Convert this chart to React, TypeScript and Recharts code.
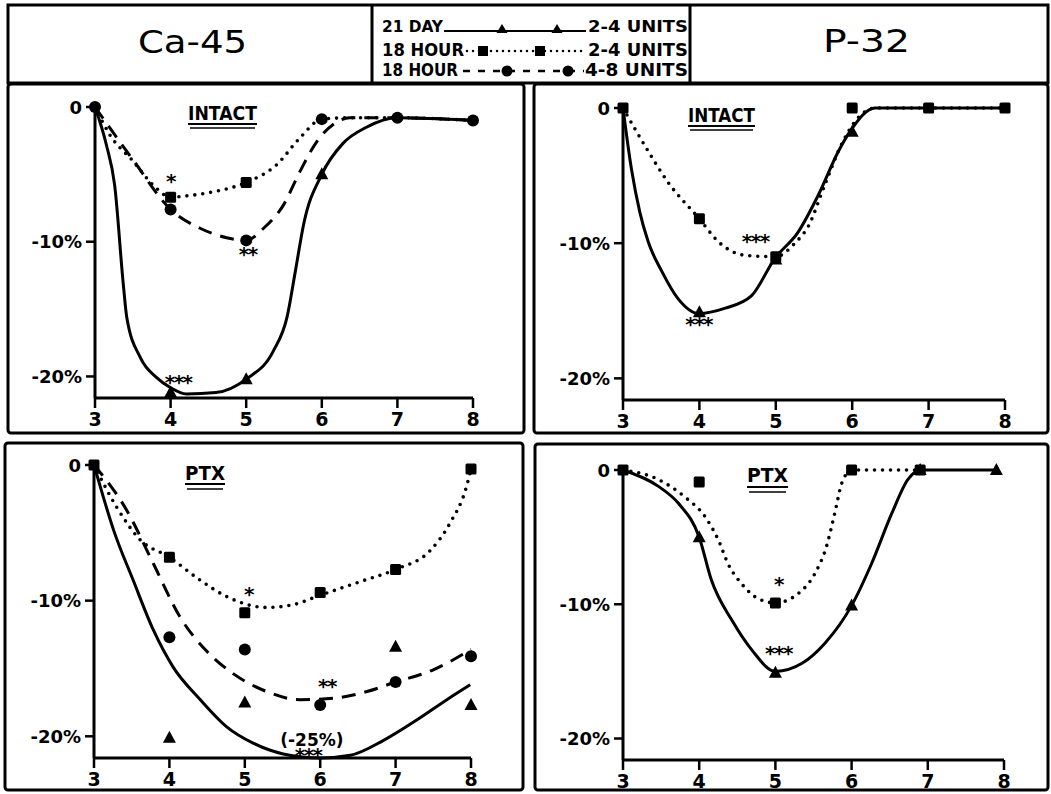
import React from 'react';
import { ComposedChart, Line, Scatter, XAxis, YAxis } from 'recharts';

type P = { x: number; y: number };
type Note = { x: number; y: number; text: string; size?: number };

// ---------- axes ----------
const xTicks = [3, 4, 5, 6, 7, 8];
const yTicks = [-20, -10, 0];
const yTickLabels: Record<string, string> = { '0': '0', '-10': '-10%', '-20': '-20%' };
const yMin = -21.6;

// ---------- header / legend text ----------
const leftTitle = 'Ca-45';
const rightTitle = 'P-32';
const legendLeft = ['21 DAY', '18 HOUR', '18 HOUR'];
const legendRight = ['2-4 UNITS', '2-4 UNITS', '4-8 UNITS'];
const panelLabels = ['INTACT', 'INTACT', 'PTX', 'PTX'];

// ---------- Ca-45 INTACT ----------
const caIntactDay21Pts: P[] = [{ x: 4, y: -21.2 }, { x: 5, y: -20.2 }, { x: 6, y: -5.0 }];
const caIntactH18LowPts: P[] = [{ x: 4, y: -6.7 }, { x: 5, y: -5.6 }];
const caIntactH18HighPts: P[] = [
  { x: 3, y: 0 }, { x: 4, y: -7.6 }, { x: 5, y: -9.9 }, { x: 6, y: -0.9 }, { x: 7, y: -0.8 }, { x: 8, y: -1.0 },
];
const caIntactDay21Curve: P[] = [
  { x: 3, y: 0 }, { x: 3.15, y: -2.8 }, { x: 3.26, y: -5.8 }, { x: 3.375, y: -13.2 }, { x: 3.42, y: -15.6 },
  { x: 3.6, y: -18.6 }, { x: 3.82, y: -20.1 }, { x: 3.99, y: -20.8 }, { x: 4.21, y: -21.3 }, { x: 4.6, y: -21.2 },
  { x: 5, y: -20.2 }, { x: 5.36, y: -18.1 }, { x: 5.54, y: -15.6 }, { x: 5.65, y: -12.2 }, { x: 5.76, y: -8.7 },
  { x: 6, y: -5.0 }, { x: 6.28, y: -2.7 }, { x: 6.59, y: -1.5 }, { x: 7, y: -0.8 }, { x: 8, y: -1.0 },
];
const caIntactH18LowCurve: P[] = [
  { x: 3, y: 0 }, { x: 3.2, y: -2.1 }, { x: 3.5, y: -4.0 }, { x: 3.77, y: -5.8 }, { x: 4, y: -6.7 },
  { x: 4.21, y: -6.6 }, { x: 4.56, y: -6.3 }, { x: 5, y: -5.6 }, { x: 5.4, y: -4.3 }, { x: 5.71, y: -2.3 },
  { x: 6, y: -0.9 }, { x: 6.37, y: -0.8 }, { x: 7, y: -0.8 }, { x: 8, y: -1.0 },
];
const caIntactH18HighCurve: P[] = [
  { x: 3, y: 0 }, { x: 3.5, y: -3.9 }, { x: 4, y: -7.6 }, { x: 4.39, y: -9.0 }, { x: 4.74, y: -9.7 },
  { x: 5, y: -9.9 }, { x: 5.23, y: -9.0 }, { x: 5.49, y: -7.3 }, { x: 5.71, y: -4.8 }, { x: 5.93, y: -2.6 },
  { x: 6.15, y: -1.3 }, { x: 6.37, y: -0.8 }, { x: 7, y: -0.8 }, { x: 8, y: -1.0 },
];
const caIntactNotes: Note[] = [
  { x: 4.0, y: -5.4, text: '*' }, { x: 5.02, y: -10.8, text: '**' }, { x: 4.1, y: -20.3, text: '***' },
];

// ---------- P-32 INTACT ----------
const pIntactDay21Pts: P[] = [{ x: 4, y: -15.1 }, { x: 5, y: -11.2 }, { x: 6, y: -1.75 }];
const pIntactH18LowPts: P[] = [
  { x: 3, y: 0 }, { x: 4, y: -8.2 }, { x: 5, y: -11.0 }, { x: 6, y: 0 }, { x: 7, y: 0 }, { x: 8, y: 0 },
];
const pIntactDay21Curve: P[] = [
  { x: 3, y: 0 }, { x: 3.11, y: -4.5 }, { x: 3.22, y: -7.7 }, { x: 3.33, y: -9.9 }, { x: 3.51, y: -12.1 },
  { x: 3.72, y: -14.1 }, { x: 3.99, y: -15.2 }, { x: 4.34, y: -14.8 }, { x: 4.68, y: -13.9 }, { x: 4.99, y: -11.1 },
  { x: 5.29, y: -9.2 }, { x: 5.56, y: -6.4 }, { x: 5.82, y: -3.2 }, { x: 5.97, y: -1.75 }, { x: 6.3, y: 0 },
  { x: 7, y: 0 }, { x: 8, y: 0 },
];
const pIntactH18LowCurve: P[] = [
  { x: 3, y: 0 }, { x: 3.33, y: -3.2 }, { x: 3.59, y: -5.5 }, { x: 4, y: -8.2 }, { x: 4.25, y: -9.9 },
  { x: 4.6, y: -10.9 }, { x: 5, y: -11.0 }, { x: 5.25, y: -10.0 }, { x: 5.43, y: -8.7 }, { x: 5.64, y: -5.7 },
  { x: 5.86, y: -2.7 }, { x: 6.05, y: -0.9 }, { x: 6.3, y: 0 }, { x: 7, y: 0 }, { x: 8, y: 0 },
];
const pIntactNotes: Note[] = [
  { x: 4.73, y: -9.7, text: '***' }, { x: 3.99, y: -15.9, text: '***' },
];

// ---------- Ca-45 PTX ----------
const caPtxDay21Pts: P[] = [{ x: 4, y: -20.1 }, { x: 5, y: -17.5 }, { x: 7, y: -13.4 }, { x: 8, y: -17.7 }];
const caPtxH18LowPts: P[] = [
  { x: 3, y: 0 }, { x: 4, y: -6.8 }, { x: 5, y: -10.9 }, { x: 6, y: -9.4 }, { x: 7, y: -7.7 }, { x: 8, y: -0.3 },
];
const caPtxH18HighPts: P[] = [
  { x: 4, y: -12.7 }, { x: 5, y: -13.6 }, { x: 6, y: -17.7 }, { x: 7, y: -16.0 }, { x: 8, y: -14.1 },
];
const caPtxDay21Curve: P[] = [
  { x: 3, y: 0 }, { x: 3.12, y: -2.3 }, { x: 3.26, y: -4.8 }, { x: 3.52, y: -8.5 }, { x: 3.79, y: -12.2 },
  { x: 4.05, y: -14.9 }, { x: 4.41, y: -17.3 }, { x: 4.76, y: -19.3 }, { x: 5.11, y: -20.5 }, { x: 5.51, y: -21.3 },
  { x: 6, y: -21.6 }, { x: 6.4, y: -21.4 }, { x: 6.84, y: -20.3 }, { x: 7.28, y: -18.8 }, { x: 7.68, y: -17.3 },
  { x: 7.99, y: -16.2 },
];
const caPtxH18LowCurve: P[] = [
  { x: 3, y: 0 }, { x: 3.3, y: -3.1 }, { x: 3.61, y: -5.5 }, { x: 4, y: -6.8 }, { x: 4.41, y: -8.5 },
  { x: 4.76, y: -9.7 }, { x: 5.29, y: -10.5 }, { x: 5.64, y: -10.3 }, { x: 6, y: -9.6 }, { x: 6.53, y: -8.6 },
  { x: 7, y: -7.7 }, { x: 7.46, y: -6.3 }, { x: 7.72, y: -4.3 }, { x: 7.94, y: -1.6 }, { x: 8, y: -0.3 },
];
const caPtxH18HighCurve: P[] = [
  { x: 3, y: 0 }, { x: 3.43, y: -3.3 }, { x: 3.79, y: -7.3 }, { x: 4.14, y: -11.2 }, { x: 4.49, y: -13.7 },
  { x: 4.85, y: -15.4 }, { x: 5.29, y: -16.7 }, { x: 5.73, y: -17.3 }, { x: 6.17, y: -17.2 }, { x: 6.62, y: -16.7 },
  { x: 7, y: -16.0 }, { x: 7.5, y: -15.1 }, { x: 8, y: -13.6 },
];
const caPtxNotes: Note[] = [
  { x: 5.05, y: -9.4, text: '*' }, { x: 6.09, y: -16.2, text: '**' },
  { x: 5.89, y: -20.3, text: '(-25%)', size: 17 }, { x: 5.84, y: -21.3, text: '***' },
];

// ---------- P-32 PTX ----------
const pPtxDay21Pts: P[] = [
  { x: 4, y: -5.0 }, { x: 5, y: -15.1 }, { x: 6, y: -10.1 }, { x: 6.9, y: 0 }, { x: 7.9, y: 0 },
];
const pPtxH18LowPts: P[] = [
  { x: 3, y: 0 }, { x: 4, y: -0.9 }, { x: 5, y: -9.9 }, { x: 6, y: 0 }, { x: 6.9, y: 0 },
];
const pPtxDay21Curve: P[] = [
  { x: 3, y: 0 }, { x: 3.46, y: -1.2 }, { x: 3.73, y: -2.5 }, { x: 4, y: -5.0 }, { x: 4.16, y: -8.2 },
  { x: 4.43, y: -11.2 }, { x: 4.69, y: -13.4 }, { x: 5, y: -15.0 }, { x: 5.35, y: -14.4 }, { x: 5.65, y: -12.9 },
  { x: 6, y: -10.1 }, { x: 6.26, y: -7.0 }, { x: 6.53, y: -3.2 }, { x: 6.74, y: -0.7 }, { x: 6.9, y: 0 },
  { x: 7.9, y: 0 },
];
const pPtxH18LowCurve: P[] = [
  { x: 3, y: 0 }, { x: 3.46, y: -0.7 }, { x: 3.81, y: -2.0 }, { x: 4.08, y: -3.5 }, { x: 4.25, y: -5.2 },
  { x: 4.38, y: -7.0 }, { x: 4.56, y: -8.5 }, { x: 4.78, y: -9.6 }, { x: 5, y: -9.9 }, { x: 5.3, y: -9.2 },
  { x: 5.52, y: -7.7 }, { x: 5.67, y: -5.7 }, { x: 5.78, y: -3.2 }, { x: 5.87, y: -1.0 }, { x: 6, y: 0 },
  { x: 6.9, y: 0 },
];
const pPtxNotes: Note[] = [
  { x: 5.04, y: -8.4, text: '*' }, { x: 5.04, y: -13.5, text: '***' },
];

// ---------- shapes ----------
const FONT = '"DejaVu Sans", "Liberation Sans", sans-serif';
const Tri = (p: any) => (
  <path d={`M${p.cx},${p.cy - 7} L${p.cx + 6.5},${p.cy + 5} L${p.cx - 6.5},${p.cy + 5} Z`} fill="#000" />
);
const Sq = (p: any) => <rect x={p.cx - 5.5} y={p.cy - 5.5} width={11} height={11} rx={1.5} fill="#000" />;
const Circ = (p: any) => <circle cx={p.cx} cy={p.cy} r={6} fill="#000" />;
const NoteShape = (p: any) => {
  const txt: string = p.payload ? p.payload.text : '';
  const star = txt.charAt(0) === '*';
  return (
    <text
      x={p.cx}
      y={p.cy}
      dy={star ? '0.42em' : '0.35em'}
      textAnchor="middle"
      fontFamily={FONT}
      fontWeight={700}
      fontSize={(p.payload && p.payload.size) || 20}
      letterSpacing={star ? -1.5 : 0}
      fill="#000"
    >
      {txt}
    </text>
  );
};

type Series = { curve?: P[]; pts?: P[]; kind: 'solid' | 'dotted' | 'dashed' };
type Box = { x: number; y: number; w: number; h: number };
type Plot = { x0: number; y0: number; x1: number; y1: number };

const strokeFor = (kind: string) =>
  kind === 'solid'
    ? { strokeWidth: 3 }
    : kind === 'dotted'
    ? { strokeWidth: 3.6, strokeDasharray: '0 8', strokeLinecap: 'round' as const }
    : { strokeWidth: 3, strokeDasharray: '14 9' };
const shapeFor = (kind: string) => (kind === 'solid' ? Tri : kind === 'dotted' ? Sq : Circ);

const YTick = (p: any) => (
  <text x={p.x} y={p.y} textAnchor="end" dominantBaseline="central" fontFamily={FONT} fontWeight={700} fontSize={18} fill="#000">
    {yTickLabels[String(p.payload.value)]}
  </text>
);
const XTick = (p: any) => (
  <text x={p.x} y={p.y + 16} textAnchor="middle" fontFamily={FONT} fontWeight={700} fontSize={19} fill="#000">
    {p.payload.value}
  </text>
);

function Panel({ box, plot, series, notes }: { box: Box; plot: Plot; series: Series[]; notes: Note[] }) {
  const YW = 60;
  const XH = 30;
  const margin = {
    left: plot.x0 - box.x - YW,
    top: plot.y0 - box.y,
    right: box.x + box.w - plot.x1,
    bottom: box.y + box.h - plot.y1 - XH,
  };
  return (
    <div style={{ position: 'absolute', left: box.x, top: box.y, width: box.w, height: box.h }}>
      <ComposedChart width={box.w} height={box.h} margin={margin}>
        <XAxis
          type="number"
          dataKey="x"
          domain={[3, 8]}
          ticks={xTicks}
          height={XH}
          axisLine={{ stroke: '#000', strokeWidth: 3 }}
          tickLine={{ stroke: '#000', strokeWidth: 2.5 }}
          tickSize={10}
          tick={<XTick />}
        />
        <YAxis
          type="number"
          dataKey="y"
          domain={[yMin, 0]}
          ticks={yTicks}
          width={YW}
          axisLine={{ stroke: '#000', strokeWidth: 3 }}
          tickLine={{ stroke: '#000', strokeWidth: 2.5 }}
          tickSize={9}
          tickMargin={4}
          tick={<YTick />}
        />
        {series.map((s, i) =>
          s.curve ? (
            <Line
              key={'c' + i}
              data={s.curve}
              dataKey="y"
              type="monotone"
              stroke="#000"
              {...strokeFor(s.kind)}
              dot={false}
              activeDot={false}
              isAnimationActive={false}
            />
          ) : null
        )}
        {series.map((s, i) =>
          s.pts ? (
            <Scatter key={'p' + i} data={s.pts} dataKey="y" shape={shapeFor(s.kind)} isAnimationActive={false} />
          ) : null
        )}
        <Scatter data={notes} dataKey="y" shape={NoteShape} isAnimationActive={false} />
      </ComposedChart>
    </div>
  );
}

const panels: { box: Box; plot: Plot; series: Series[]; notes: Note[] }[] = [
  {
    box: { x: 8, y: 84, w: 516, h: 349 },
    plot: { x0: 95, y0: 107, x1: 473, y1: 398 },
    series: [
      { kind: 'solid', curve: caIntactDay21Curve, pts: caIntactDay21Pts },
      { kind: 'dotted', curve: caIntactH18LowCurve, pts: caIntactH18LowPts },
      { kind: 'dashed', curve: caIntactH18HighCurve, pts: caIntactH18HighPts },
    ],
    notes: caIntactNotes,
  },
  {
    box: { x: 534, y: 84, w: 514, h: 349 },
    plot: { x0: 623, y0: 108, x1: 1005, y1: 400 },
    series: [
      { kind: 'solid', curve: pIntactDay21Curve, pts: pIntactDay21Pts },
      { kind: 'dotted', curve: pIntactH18LowCurve, pts: pIntactH18LowPts },
    ],
    notes: pIntactNotes,
  },
  {
    box: { x: 5, y: 443, w: 518, h: 351 },
    plot: { x0: 94, y0: 465, x1: 471, y1: 758 },
    series: [
      { kind: 'solid', curve: caPtxDay21Curve, pts: caPtxDay21Pts },
      { kind: 'dotted', curve: caPtxH18LowCurve, pts: caPtxH18LowPts },
      { kind: 'dashed', curve: caPtxH18HighCurve, pts: caPtxH18HighPts },
    ],
    notes: caPtxNotes,
  },
  {
    box: { x: 535, y: 444, w: 513, h: 350 },
    plot: { x0: 623, y0: 470, x1: 1004, y1: 760 },
    series: [
      { kind: 'solid', curve: pPtxDay21Curve, pts: pPtxDay21Pts },
      { kind: 'dotted', curve: pPtxH18LowCurve, pts: pPtxH18LowPts },
    ],
    notes: pPtxNotes,
  },
];

const labelPos = [
  { x: 188, y: 120, w: 69, u1: 124, u2: 128 },
  { x: 688, y: 122, w: 67, u1: 126, u2: 130 },
  { x: 185, y: 480, w: 40, u1: 484, u2: 489 },
  { x: 747, y: 482, w: 41, u1: 487, u2: 492 },
];

function Frame() {
  const s = { fill: 'none', stroke: '#000', strokeWidth: 3 };
  const legendY = [
    { base: 32, size: 16, wl: 61, wr: 100, rx: 588 },
    { base: 56, size: 17, wl: 82, wr: 100, rx: 588 },
    { base: 76, size: 17, wl: 76, wr: 103, rx: 585 },
  ];
  return (
    <svg width={1051} height={794} style={{ position: 'absolute', left: 0, top: 0 }}>
      <rect x={8} y={5} width={1040} height={78} {...s} />
      <line x1={372} y1={5} x2={372} y2={83} {...s} />
      <line x1={690} y1={5} x2={690} y2={83} {...s} />
      <rect x={8} y={84} width={516} height={349} rx={3} {...s} />
      <rect x={534} y={84} width={514} height={349} rx={3} {...s} />
      <rect x={5} y={443} width={518} height={347} rx={3} {...s} />
      <rect x={535} y={444} width={513} height={346} rx={3} {...s} />
      <text x={138} y={53} fontFamily={FONT} fontSize={32} textLength={109} lengthAdjust="spacingAndGlyphs" fill="#000">
        {leftTitle}
      </text>
      <text x={823} y={52} fontFamily={FONT} fontSize={32} textLength={87} lengthAdjust="spacingAndGlyphs" fill="#000">
        {rightTitle}
      </text>
      {legendY.map((r, i) => (
        <g key={i}>
          <text x={382} y={r.base} fontFamily={FONT} fontWeight={700} fontSize={r.size} textLength={r.wl} lengthAdjust="spacingAndGlyphs" fill="#000">
            {legendLeft[i]}
          </text>
          <text x={r.rx} y={r.base} fontFamily={FONT} fontWeight={700} fontSize={r.size} textLength={r.wr} lengthAdjust="spacingAndGlyphs" fill="#000">
            {legendRight[i]}
          </text>
        </g>
      ))}
      <line x1={444} y1={31} x2={586} y2={31} stroke="#000" strokeWidth={2} />
      <path d="M502,24 L507.5,33 L496.5,33 Z" fill="#000" />
      <path d="M557,24 L562.5,33 L551.5,33 Z" fill="#000" />
      <line x1={467} y1={51} x2={586} y2={51} stroke="#000" strokeWidth={2.5} strokeDasharray="0 6" strokeLinecap="round" />
      <rect x={478} y={46} width={10} height={10} fill="#000" />
      <rect x={535} y={46} width={10} height={10} fill="#000" />
      <line x1={463} y1={71} x2={584} y2={71} stroke="#000" strokeWidth={2.5} strokeDasharray="7 8" />
      <circle cx={507} cy={71} r={5.5} fill="#000" />
      <circle cx={568} cy={71} r={5.5} fill="#000" />
      {labelPos.map((l, i) => (
        <g key={'l' + i}>
          <text x={l.x} y={l.y} fontFamily={FONT} fontWeight={700} fontSize={19} textLength={l.w} lengthAdjust="spacingAndGlyphs" fill="#000">
            {panelLabels[i]}
          </text>
          <line x1={l.x} y1={l.u1} x2={l.x + l.w} y2={l.u1} stroke="#000" strokeWidth={2.2} />
          <line x1={l.x + 2} y1={l.u2} x2={l.x + l.w - 2} y2={l.u2} stroke="#000" strokeWidth={1.3} />
        </g>
      ))}
    </svg>
  );
}

export default function App() {
  return (
    <div style={{ position: 'absolute', left: 0, top: 0, width: 1051, height: 794, background: '#fff' }}>
      <Frame />
      {panels.map((p, i) => (
        <Panel key={i} box={p.box} plot={p.plot} series={p.series} notes={p.notes} />
      ))}
    </div>
  );
}
